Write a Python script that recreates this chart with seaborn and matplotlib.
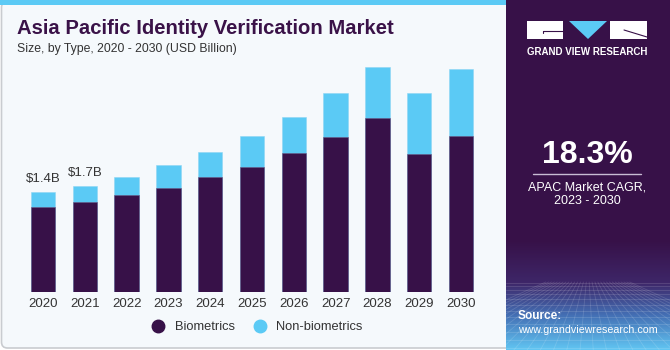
import numpy as np
import pandas as pd
import matplotlib
matplotlib.use("Agg")
import matplotlib.pyplot as plt
import seaborn as sns
from matplotlib.patches import Rectangle, FancyBboxPatch, Polygon
from matplotlib.lines import Line2D
from matplotlib.colors import to_rgb

# ---------------- data ----------------
years = ["2020", "2021", "2022", "2023", "2024", "2025", "2026", "2027", "2028", "2029", "2030"]
biometrics = [1.19, 1.27, 1.36, 1.46, 1.61, 1.75, 1.95, 2.17, 2.44, 1.94, 2.19]
non_biometrics = [0.21, 0.22, 0.26, 0.32, 0.35, 0.44, 0.51, 0.62, 0.72, 0.85, 0.94]
value_labels = {"2020": "$1.4B", "2021": "$1.7B"}
series_names = ["Biometrics", "Non-biometrics"]

title = "Asia Pacific Identity Verification Market"
subtitle = "Size, by Type, 2020 - 2030 (USD Billion)"
cagr_value = "18.3%"
cagr_text = ["APAC Market CAGR,", "2023 - 2030"]

# ---------------- style ----------------
BG = "#F5F9FC"
DARK = "#371148"
LIGHT = "#5BCAF5"
TITLE_C = "#3A1248"
TEXT_C = "#333333"

sns.set_theme(style="white")
plt.rcParams["font.family"] = ["Liberation Sans", "DejaVu Sans"]

W, H = 670, 350
fig = plt.figure(figsize=(W / 100, H / 100), dpi=100)
fig.patch.set_facecolor("white")

# background frame of left panel
bg_ax = fig.add_axes([0, 0, 1, 1])
bg_ax.set_xlim(0, W)
bg_ax.set_ylim(H, 0)
bg_ax.axis("off")
bg_ax.add_patch(FancyBboxPatch((1.5, 1.5), 520, H - 3.5,
                               boxstyle="round,pad=0,rounding_size=6",
                               facecolor=BG, edgecolor="#C9CCD0", lw=1.2))
bg_ax.add_patch(Rectangle((0, 0), 506, 5, facecolor=LIGHT, edgecolor="none"))

# ---------------- chart ----------------
df = pd.DataFrame({"year": years,
                   "bio": biometrics,
                   "nonbio": non_biometrics})
df["total"] = df["bio"] + df["nonbio"]

ax = fig.add_axes([22.1 / W, 1 - 292 / H, 459.8 / W, 232 / H])
ax.set_facecolor("none")
sns.barplot(data=df, x="year", y="total", color=LIGHT, saturation=1,
            width=0.58, ax=ax, edgecolor="#8fd6f3", linewidth=0.4)
sns.barplot(data=df, x="year", y="bio", color=DARK, saturation=1,
            width=0.58, ax=ax, edgecolor="#6a5a86", linewidth=0.4)
ax.set_xlim(-0.5, len(years) - 0.5)
ax.set_ylim(0, 3.258)
ax.set_xlabel("")
ax.set_ylabel("")
ax.set_yticks([])
for s in ax.spines.values():
    s.set_visible(False)
ax.tick_params(axis="x", length=0, pad=4, labelsize=9.5, labelcolor=TEXT_C)

for i, y in enumerate(years):
    if y in value_labels:
        ax.annotate(value_labels[y], (i, df["total"][i]), xytext=(0, 5),
                    textcoords="offset points", ha="center", va="bottom",
                    fontsize=9.5, color=TEXT_C)

handles = [Line2D([], [], marker="o", ls="none", markersize=9, color=DARK),
           Line2D([], [], marker="o", ls="none", markersize=9, color=LIGHT)]
fig.legend(handles, series_names, loc="center", bbox_to_anchor=(254 / W, 1 - 327 / H),
           ncol=2, frameon=False, fontsize=9.3, handletextpad=0.3, columnspacing=0.9,
           labelcolor=TEXT_C)

fig.text(17 / W, 1 - 29 / H, title, fontsize=14.6, fontweight="bold",
         color=TITLE_C, va="center", ha="left")
fig.text(17 / W, 1 - 49 / H, subtitle, fontsize=8.8, color=TEXT_C,
         va="center", ha="left")

# ---------------- right panel ----------------
px0 = 506
rp = fig.add_axes([px0 / W, 0, (W - px0) / W, 1])
rp.set_xlim(0, W - px0)
rp.set_ylim(H, 0)
rp.axis("off")

top = np.array(to_rgb("#371148"))
hor = np.array(to_rgb("#3E2668"))
mid = np.array(to_rgb("#4470B5"))
bot = np.array(to_rgb("#62C8F4"))
rows = []
for yy in range(H):
    if yy < 240:
        c = top
    elif yy < 282:
        t = (yy - 240) / 42
        c = top * (1 - t) + hor * t
    elif yy < 315:
        t = (yy - 282) / 33
        c = hor * (1 - t) + mid * t
    else:
        t = (yy - 315) / 35
        c = mid * (1 - t) + bot * t
    rows.append(c)
grad = np.array(rows)[:, None, :].repeat(2, axis=1)
rp.imshow(grad, extent=[0, W - px0, H, 0], aspect="auto", zorder=0)

# faint perspective grid below horizon
hz = 282
for k in range(1, 14):
    yy = hz + (k ** 1.55) * 1.4
    if yy > H:
        break
    rp.plot([0, W - px0], [yy, yy], color="white", alpha=0.15, lw=0.6, zorder=1)
for xv in np.linspace(-200, 360, 30):
    rp.plot([82 + (xv - 82) * 0.15, xv], [hz, H + 40], color="white", alpha=0.14,
            lw=0.6, zorder=1)
rp.set_xlim(0, W - px0)
rp.set_ylim(H, 0)

# logo
def X(v):
    return v - px0
rp.add_patch(Rectangle((X(527), 21), 36, 18, facecolor="white", edgecolor="none", zorder=2))
rp.add_patch(Rectangle((X(610), 21), 37, 18, facecolor="white", edgecolor="none", zorder=2))
rp.plot([X(543), X(563)], [30.5, 30.5], color=DARK, lw=0.8, zorder=3)
rp.plot([X(543), X(543)], [30.5, 33], color=DARK, lw=0.8, zorder=3)
rp.plot([X(624), X(647)], [30, 37], color=DARK, lw=0.8, zorder=3)
rp.add_patch(Polygon([[X(569), 21], [X(607), 21], [X(588), 39]], closed=True,
                     facecolor=LIGHT, edgecolor="none", zorder=2))
rp.text(X(587), 52, "GRAND VIEW RESEARCH", color="white", fontsize=7.0,
        fontweight="bold", ha="center", va="center", zorder=3)

rp.text(X(587.5), 155, cagr_value, color="white", fontsize=23, fontweight="bold",
        ha="center", va="center", zorder=3)
rp.plot([X(533), X(641)], [173.5, 173.5], color="#c8bcd4", lw=1.0, zorder=3)
rp.text(X(587), 187, cagr_text[0], color="white", fontsize=9, ha="center",
        va="center", zorder=3)
rp.text(X(587), 201.5, cagr_text[1], color="white", fontsize=9, ha="center",
        va="center", zorder=3)
rp.text(X(518), 316, "Source:", color="white", fontsize=8.6, fontweight="bold",
        ha="left", va="center", zorder=3)
rp.text(X(518), 330, "www.grandviewresearch.com", color="white", fontsize=7.7,
        ha="left", va="center", zorder=3)

fig.savefig("out.png", dpi=100, facecolor=fig.get_facecolor())
